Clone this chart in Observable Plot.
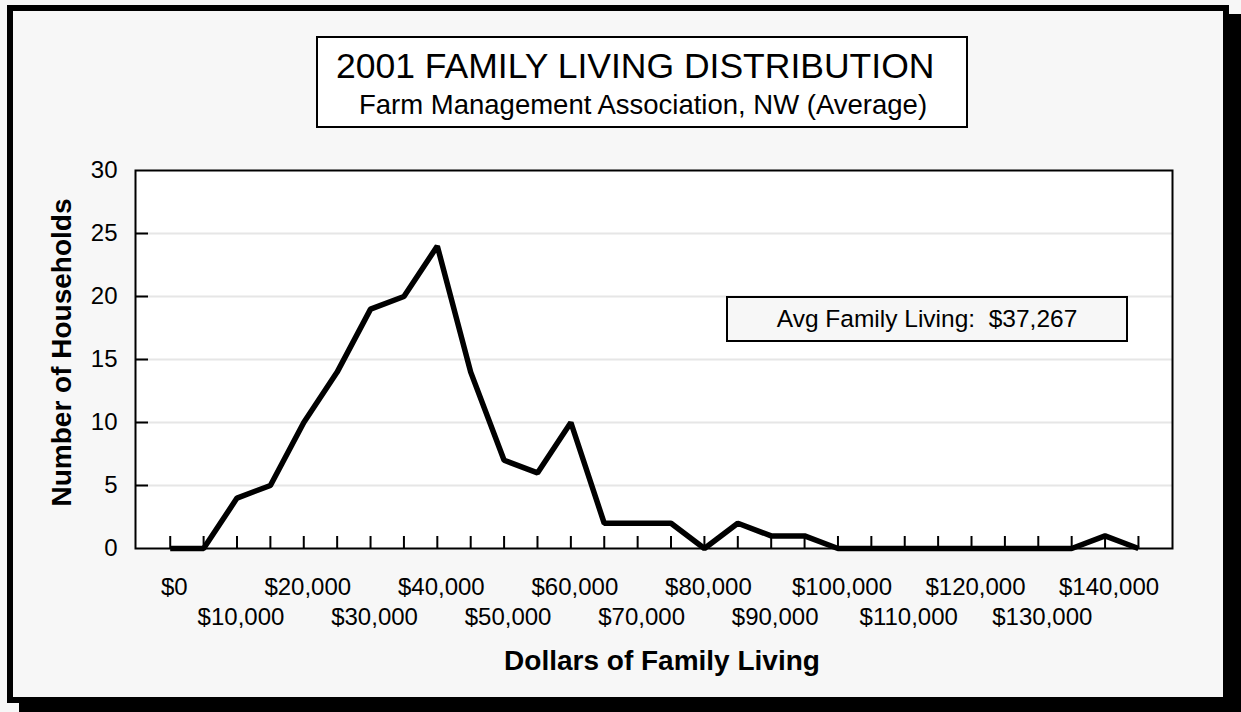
<!DOCTYPE html>
<html>
<head>
<meta charset="utf-8">
<script src="https://cdn.jsdelivr.net/npm/d3@7"></script>
<script src="https://cdn.jsdelivr.net/npm/@observablehq/plot@0.6"></script>
<style>
  html, body { margin: 0; padding: 0; background: #f7f7f7; }
  #wrap { position: relative; width: 1241px; height: 712px; overflow: hidden; background: #f7f7f7;
          font-family: "Liberation Sans", Arial, Helvetica, sans-serif; color: #000; }
  #border { position: absolute; left: 7px; top: 5px; width: 1222px; height: 698px; box-sizing: border-box;
            border: 6px solid #000; box-shadow: 12px 9px 0 #000; }
  #chart { position: absolute; left: 0; top: 0; }
  #titlebox { position: absolute; left: 316px; top: 36px; width: 652px; height: 92px; box-sizing: border-box;
              border: 2px solid #000; background: #fff; }
  .t { position: absolute; white-space: nowrap; line-height: 1; }
  #title { left: 336px; top: 49px; font-size: 35.5px; }
  #subtitle { left: 359px; top: 91px; font-size: 27.5px; }
  #avg { position: absolute; left: 726px; top: 296px; width: 402px; height: 46px; box-sizing: border-box;
         border: 2px solid #000; background: #f7f7f7; font-size: 24.5px; display: flex; align-items: center;
         justify-content: center; white-space: pre; }
</style>
</head>
<body>
<div id="wrap">
  <div id="border"></div>
  <div id="chart"></div>
  <div id="titlebox"></div>
  <div class="t" id="title"></div>
  <div class="t" id="subtitle"></div>
  <div id="avg"></div>
</div>
<script>
// ---- data ----
const titleText = "2001 FAMILY LIVING DISTRIBUTION";
const subtitleText = "Farm Management Association, NW (Average)";
const avgText = "Avg Family Living:  $37,267";
const xTitle = "Dollars of Family Living";
const yTitle = "Number of Households";

const dollars = [0, 5000, 10000, 15000, 20000, 25000, 30000, 35000, 40000, 45000,
                 50000, 55000, 60000, 65000, 70000, 75000, 80000, 85000, 90000, 95000,
                 100000, 105000, 110000, 115000, 120000, 125000, 130000, 135000, 140000, 145000];
const households = [0, 0, 4, 5, 10, 14, 19, 20, 24, 14,
                    7, 6, 10, 2, 2, 2, 0, 2, 1, 1,
                    0, 0, 0, 0, 0, 0, 0, 0, 1, 0];

const xLabelsUpper = [0, 20000, 40000, 60000, 80000, 100000, 120000, 140000];
const xLabelsLower = [10000, 30000, 50000, 70000, 90000, 110000, 130000];
const yTicks = [0, 5, 10, 15, 20, 25, 30];
const yGrid = [5, 10, 15, 20, 25];

// ---- build ----
document.getElementById("title").textContent = titleText;
document.getElementById("subtitle").textContent = subtitleText;
document.getElementById("avg").textContent = avgText;

const data = dollars.map((d, i) => ({dollars: d, count: households[i]}));
const fmt = d => "$" + d3.format(",")(d);
const font = "Liberation Sans, Arial, Helvetica, sans-serif";

const chart = Plot.plot({
  width: 1241,
  height: 712,
  marginLeft: 135,
  marginRight: 69,
  marginTop: 170,
  marginBottom: 164,
  style: {background: "transparent", fontFamily: font, color: "#000", overflow: "visible"},
  x: {type: "linear", domain: [-5200, 150100], axis: null},
  y: {type: "linear", domain: [0, 30], axis: null},
  marks: [
    Plot.frame({fill: "#ffffff", stroke: null}),
    Plot.gridY(yGrid, {stroke: "#e6e6e6", strokeOpacity: 1, strokeWidth: 2}),
    // inward tick marks
    Plot.axisY({ticks: yGrid, tickSize: 13, dx: 13, text: null, label: null, stroke: "#000", strokeWidth: 2}),
    Plot.axisX({ticks: dollars, tickSize: 12, dy: -12, text: null, label: null, stroke: "#000", strokeWidth: 2}),
    // tick labels
    Plot.axisY({ticks: yTicks, tickSize: 0, tickPadding: 18, fontSize: 24, tickFormat: d => String(d), label: null}),
    Plot.axisX({ticks: xLabelsUpper, tickSize: 0, tickPadding: 29, dx: 4, fontSize: 24, tickFormat: fmt, label: null}),
    Plot.axisX({ticks: xLabelsLower, tickSize: 0, tickPadding: 59, dx: 4, fontSize: 24, tickFormat: fmt, label: null}),
    // axis titles
    Plot.text([yTitle], {frameAnchor: "left", rotate: -90, dx: -73, dy: -7, textAnchor: "middle", lineAnchor: "middle",
                         fontSize: 28, fontWeight: "bold", fill: "#000"}),
    Plot.text([xTitle], {frameAnchor: "bottom", dy: 113, dx: 8, textAnchor: "middle", lineAnchor: "middle",
                         fontSize: 28, fontWeight: "bold", fill: "#000"}),
    // data line
    Plot.line(data, {x: "dollars", y: "count", stroke: "#000", strokeWidth: 5.5,
                     strokeLinejoin: "miter", strokeLinecap: "butt"}),
    Plot.frame({stroke: "#000", strokeWidth: 2, fill: null})
  ]
});
document.getElementById("chart").appendChild(chart);
</script>
</body>
</html>
